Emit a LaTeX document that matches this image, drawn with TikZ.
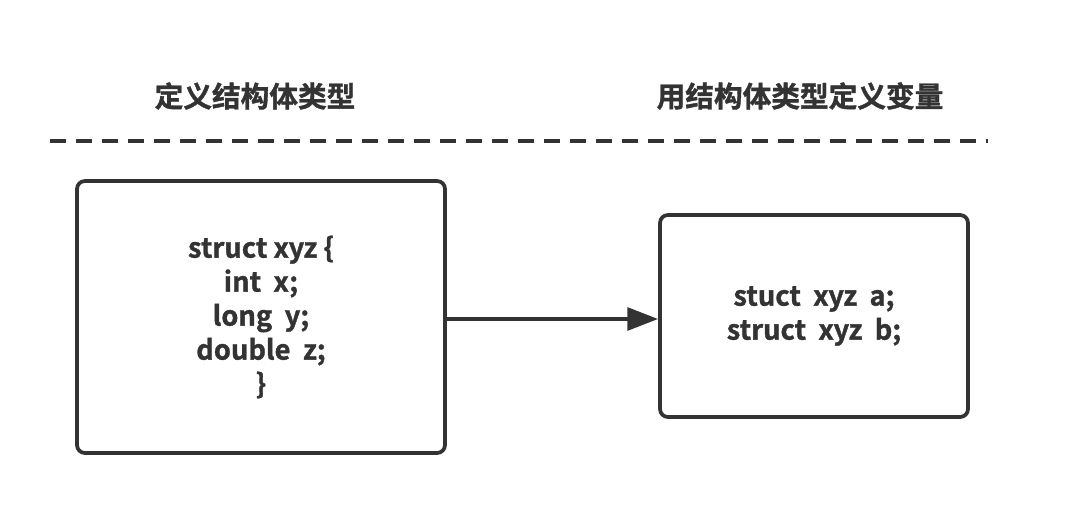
\documentclass[tikz,border=0pt]{standalone}
\usepackage{fontspec}
\setmainfont{Noto Sans CJK SC}[BoldFont={* Bold}, BoldFeatures={FakeBold=1.2}]
\usepackage{tikz}
\usetikzlibrary{arrows.meta, positioning}
\definecolor{ink}{HTML}{333333}
\tikzset{
  codebox/.style ={draw=ink, rounded corners=6pt, line width=2.8pt, text=ink, align=center, font=\fontsize{20.5}{25.5}\selectfont\bfseries},
  heading/.style ={text=ink, font=\fontsize{21.5}{26}\selectfont\bfseries},
  divider/.style ={ink, line width=3pt, dash pattern=on 12pt off 7.5pt},
  flow/.style    ={-{Triangle[length=23pt, width=17pt]}, line width=2.8pt, ink},
}

\begin{document}
\begin{tikzpicture}[x=0.75pt, y=-0.75pt]
  \useasboundingbox (0,0) rectangle (1090,504);
  % headings above the dashed rule
  \node[heading] (deftype) at (255,96) {定义结构体类型};
  \node[heading] (usetype) at (800,96) {用结构体类型定义变量};
  \coordinate (rulel) at (50,141);
  \coordinate (ruler) at (988,141);
  \draw[divider] (rulel) -- (ruler);
  % the two boxes
  \node[codebox, minimum width=276pt, minimum height=204pt] (decl) at (261,317)
    {struct xyz \{\\int\ \ x;\\long\ \ y;\\double\ \ z;\\\}};
  \node[codebox, minimum width=231pt, minimum height=151.5pt] (vars) at (814,316)
    {stuct\ \ xyz\ \ a;\\struct\ \ xyz\ \ b;};
  \draw[flow] (decl.east |- 0,319) -- (vars.west |- 0,319);
\end{tikzpicture}
\end{document}
